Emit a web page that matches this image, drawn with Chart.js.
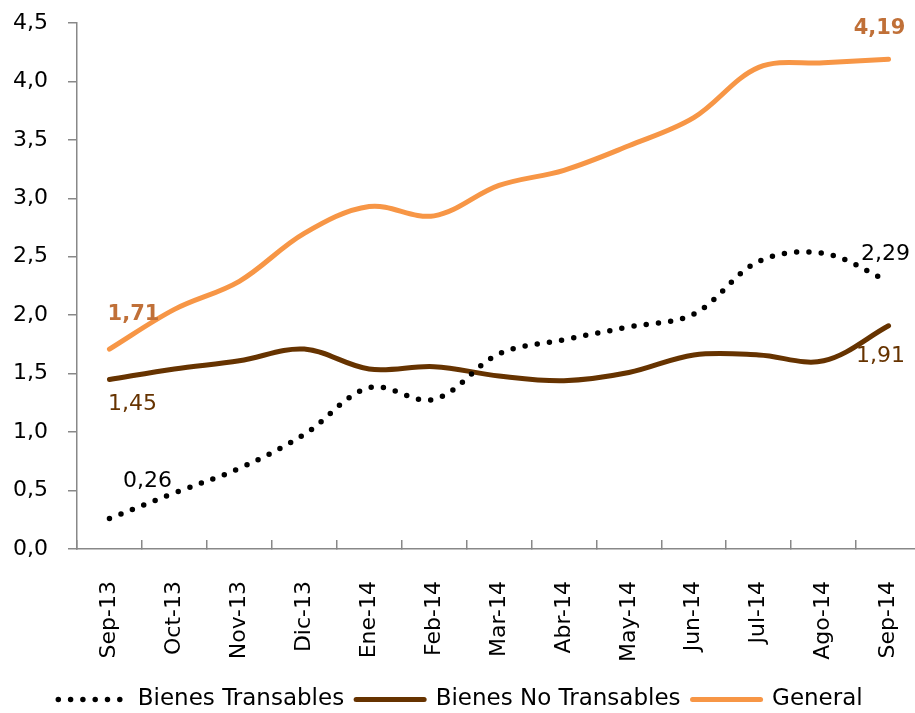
<!DOCTYPE html>
<html>
<head>
<meta charset="utf-8">
<script src="https://cdn.jsdelivr.net/npm/chart.js@4.4.1/dist/chart.umd.min.js"></script>
<style>
  html, body { margin: 0; padding: 0; overflow: hidden; background: #fff; }
  #wrap { width: 925px; height: 721px; }
</style>
</head>
<body>
<div id="wrap"><canvas id="c" width="925" height="721"></canvas></div>
<script>
const categories = ["Sep-13","Oct-13","Nov-13","Dic-13","Ene-14","Feb-14","Mar-14","Abr-14","May-14","Jun-14","Jul-14","Ago-14","Sep-14"];
const transables   = [0.26, 0.48, 0.69, 0.98, 1.38, 1.28, 1.67, 1.79, 1.90, 2.01, 2.46, 2.53, 2.29];
const noTransables = [1.45, 1.54, 1.61, 1.71, 1.54, 1.56, 1.48, 1.44, 1.51, 1.66, 1.66, 1.61, 1.91];
const general      = [1.71, 2.05, 2.29, 2.70, 2.93, 2.85, 3.11, 3.24, 3.45, 3.69, 4.12, 4.16, 4.19];
const yTicks = [0, 0.5, 1, 1.5, 2, 2.5, 3, 3.5, 4, 4.5];

const FONT = "'DejaVu Sans', sans-serif";
const fmt = v => v.toFixed(2).replace('.', ',');

const endLabels = {
  id: 'endLabels',
  afterDatasetsDraw(chart) {
    const ctx = chart.ctx;
    chart.data.datasets.forEach((ds, di) => {
      const meta = chart.getDatasetMeta(di);
      (ds.endLabels || []).forEach(l => {
        const pt = meta.data[l.index];
        ctx.save();
        ctx.font = (l.bold ? 'bold 21px ' : '22px ') + FONT;
        ctx.fillStyle = l.color;
        ctx.textAlign = 'center';
        ctx.textBaseline = 'middle';
        ctx.fillText(fmt(ds.data[l.index]), pt.x + l.dx, pt.y + l.dy);
        ctx.restore();
      });
    });
  }
};

new Chart(document.getElementById('c'), {
  type: 'line',
  data: {
    labels: categories,
    datasets: [
      {
        label: 'Bienes Transables',
        data: transables,
        borderColor: '#000000',
        backgroundColor: '#000000',
        borderWidth: 5.5,
        borderDash: [0, 12.3],
        borderCapStyle: 'round',
        pointRadius: 0,
        tension: 0.35,
        endLabels: [
          {index: 0, dx: 38, dy: -37, color: '#000000'},
          {index: 12, dx: -3, dy: -27, color: '#000000'}
        ]
      },
      {
        label: 'Bienes No Transables',
        data: noTransables,
        borderColor: '#663300',
        backgroundColor: '#663300',
        borderWidth: 5,
        borderCapStyle: 'round',
        pointRadius: 0,
        tension: 0.35,
        endLabels: [
          {index: 0, dx: 23, dy: 25, color: '#663300'},
          {index: 12, dx: -8, dy: 31, color: '#663300'}
        ]
      },
      {
        label: 'General',
        data: general,
        borderColor: '#F79646',
        backgroundColor: '#F79646',
        borderWidth: 5,
        borderCapStyle: 'round',
        pointRadius: 0,
        tension: 0.35,
        endLabels: [
          {index: 0, dx: 24, dy: -35, color: '#C07038', bold: true},
          {index: 12, dx: -9, dy: -31, color: '#C07038', bold: true}
        ]
      }
    ]
  },
  options: {
    responsive: false,
    animation: false,
    layout: { padding: { top: 23, right: 4, left: 0, bottom: 0 } },
    plugins: {
      tooltip: { enabled: false },
      legend: {
        position: 'bottom',
        labels: {
          usePointStyle: true,
          pointStyleWidth: 68,
          padding: 12,
          color: '#000000',
          font: { family: FONT, size: 23 },
          generateLabels(chart) {
            return chart.data.datasets.map((ds, i) => ({
              text: ds.label,
              fillStyle: ds.borderColor,
              strokeStyle: ds.borderColor,
              lineWidth: ds.borderWidth,
              lineDash: ds.borderDash || [],
              lineCap: 'round',
              pointStyle: 'line',
              fontColor: '#000000',
              datasetIndex: i,
              hidden: false
            }));
          }
        }
      }
    },
    scales: {
      x: {
        offset: true,
        afterFit(scale) { scale.height = 127; scale.paddingLeft = 0; scale.paddingRight = 0; },
        grid: { drawOnChartArea: false, offset: true, tickLength: -9, color: '#888888', lineWidth: 1.5 },
        border: { color: '#888888', width: 1.5 },
        ticks: { color: '#000000', font: { family: FONT, size: 22 }, minRotation: 90, maxRotation: 90, padding: 41, autoSkip: false }
      },
      y: {
        min: 0,
        max: 4.5,
        afterFit(scale) { scale.width = 77; scale.paddingTop = 0; scale.paddingBottom = 0; },
        afterBuildTicks(scale) { scale.ticks = yTicks.map(v => ({ value: v })); },
        grid: { drawOnChartArea: false, tickLength: 9, color: '#888888', lineWidth: 1.5 },
        border: { color: '#888888', width: 1.5 },
        ticks: { color: '#000000', font: { family: FONT, size: 22 }, padding: 20, callback: v => v.toFixed(1).replace('.', ',') }
      }
    }
  },
  plugins: [endLabels]
});
</script>
</body>
</html>
